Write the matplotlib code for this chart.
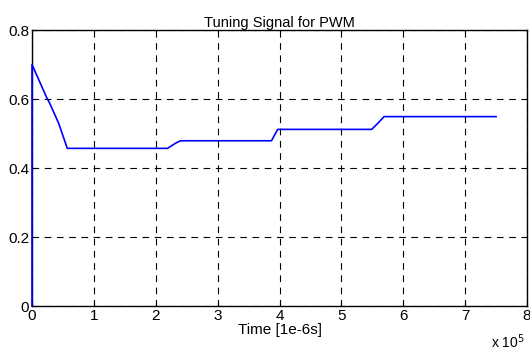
import matplotlib
matplotlib.use("Agg")
import matplotlib.pyplot as plt
from matplotlib import font_manager

names = {f.name for f in font_manager.fontManager.ttflist}
fam = "Liberation Sans Narrow" if "Liberation Sans Narrow" in names else "Liberation Sans"
plt.rcParams['font.family'] = [fam, 'DejaVu Sans']

# time in units of 1e5 * 1e-6 s
t = [0.0, 0.0, 0.24, 0.28, 0.43, 0.57, 2.19, 2.32, 2.40, 3.87, 3.97, 5.49, 5.59, 5.69, 7.5]
v = [0.0, 0.70, 0.603, 0.59, 0.53, 0.457, 0.457, 0.472, 0.479, 0.479, 0.512, 0.512, 0.53, 0.549, 0.549]
xticks = [0, 1, 2, 3, 4, 5, 6, 7, 8]
yticks = [0, 0.2, 0.4, 0.6, 0.8]
yticklabels = ["0", "0.2", "0.4", "0.6", "0.8"]

fig = plt.figure(figsize=(5.30, 3.53), dpi=100)
ax = fig.add_axes([0.0604, 0.133, 0.934, 0.782])
ax.plot(t, v, color='#0000ff', lw=1.2, zorder=5, clip_on=False)
ax.set_xlim(0, 8)
ax.set_ylim(0, 0.8)
ax.set_xticks(xticks)
ax.set_yticks(yticks)
ax.set_yticklabels(yticklabels)
ax.grid(True, color='black', linestyle=(0, (6, 5)), linewidth=0.8)
ax.tick_params(direction='in', labelsize=11, length=3, pad=2)
for s in ax.spines.values():
    s.set_linewidth(1.0)
ax.set_title("Tuning Signal for PWM", fontsize=10.5, pad=2)
ax.set_xlabel("Time [1e-6s]", fontsize=11, labelpad=0)
fig.text(0.99, 0.005, r"x 10$^5$", ha='right', va='bottom', fontsize=10)
fig.savefig("out.png", dpi=100)
